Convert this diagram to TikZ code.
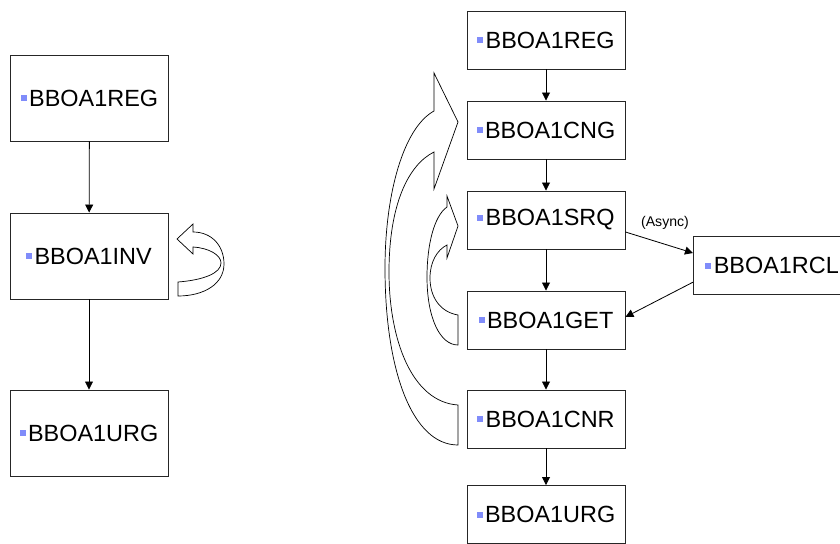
\documentclass[tikz,border=0pt]{standalone}
\usepackage{fontspec}
\setmainfont{Liberation Sans}
\usepackage{tikz}
\usetikzlibrary{arrows.meta}
\definecolor{vineta}{RGB}{128,140,250}
\newcommand{\vin}{\textcolor{vineta}{\rule[0.15cm]{0.18cm}{0.18cm}}\hspace{0.07cm}}
\tikzstyle{nodoMod} = [rectangle, draw=black!85, line width=0.8pt, minimum width=4.74cm, minimum height=1.74cm, text centered, font=\fontsize{20}{24}\selectfont]
\tikzstyle{nodoAlto} = [nodoMod, minimum height=2.58cm]
\tikzstyle{flecha} = [-{Triangle[length=0.24cm,width=0.24cm]}, line width=0.7pt]
\tikzstyle{flechaBloque} = [draw=black, fill=white, line width=0.6pt, line join=miter]

\begin{document}
\begin{tikzpicture}[x=0.03cm, y=-0.03cm]
    \useasboundingbox (0,0) rectangle (840,544);

    \node (REG1) [nodoAlto] at (89.5,98) {\vin BBOA1REG};
    \node (INV1) [nodoAlto] at (89,256) {\vin BBOA1INV};
    \node (URG1) [nodoAlto] at (89,433) {\vin BBOA1URG};

    \node (REG2) [nodoMod] at (546,40) {\vin BBOA1REG};
    \node (CNG2) [nodoMod] at (546,130) {\vin BBOA1CNG};
    \node (SRQ2) [nodoMod] at (546,220) {\vin BBOA1SRQ};
    \node (GET2) [nodoMod] at (546,320) {\vin BBOA1GET};
    \node (CNR2) [nodoMod] at (546,419) {\vin BBOA1CNR};
    \node (URG2) [nodoMod] at (546,514.5) {\vin BBOA1URG};
    \node (RCL) [nodoMod, anchor=west, text width=5cm, inner xsep=0.36cm, align=left] at (693,265.5) {\vin BBOA1RCL};
    \node (ASYNC) [font=\fontsize{12}{14}\selectfont] at (665,223) {(Async)};

    \draw [flecha] (REG1) -- (INV1);
    \draw [flecha] (INV1) -- (URG1);

    \draw [flecha] (REG2) -- (CNG2);
    \draw [flecha] (CNG2) -- (SRQ2);
    \draw [flecha] (SRQ2) -- (GET2);
    \draw [flecha] (GET2) -- (CNR2);
    \draw [flecha] (CNR2) -- (URG2);
    \draw [flecha] ([yshift=-0.36cm]SRQ2.east) -- ([yshift=0.375cm]RCL.west);
    \draw [flecha] ([yshift=-0.5cm]RCL.west) -- ([yshift=0.09cm]GET2.east);

    % vuelta sobre INV
    \draw [flechaBloque] (178,282) .. controls (204,280) and (221,273) .. (221,263)
        .. controls (221,255) and (209,248) .. (193,247) -- (193,254) -- (177,239)
        -- (193,224) -- (193,232) .. controls (212,232) and (224,246) .. (224,264)
        .. controls (224,284) and (204,296) .. (178,296) -- cycle;
    % vuelta CNR -> CNG
    \draw [flechaBloque] (458,405) .. controls (412,402) and (389,340) .. (389,272)
        .. controls (389,205) and (408,165) .. (434,152) -- (434,189) -- (458,122)
        -- (434,73) -- (434,111) .. controls (403,128) and (385,195) .. (385,268)
        .. controls (385,370) and (412,445) .. (458,445) -- cycle;
    % vuelta GET -> SRQ
    \draw [flechaBloque] (458,315) .. controls (440,312) and (430,297) .. (430,278)
        .. controls (430,262) and (437,250) .. (447,245) -- (447,258) -- (458,226)
        -- (447,196) -- (447,207) .. controls (434,216) and (427,245) .. (427,277)
        .. controls (427,318) and (440,345) .. (458,345) -- cycle;
\end{tikzpicture}
\end{document}
